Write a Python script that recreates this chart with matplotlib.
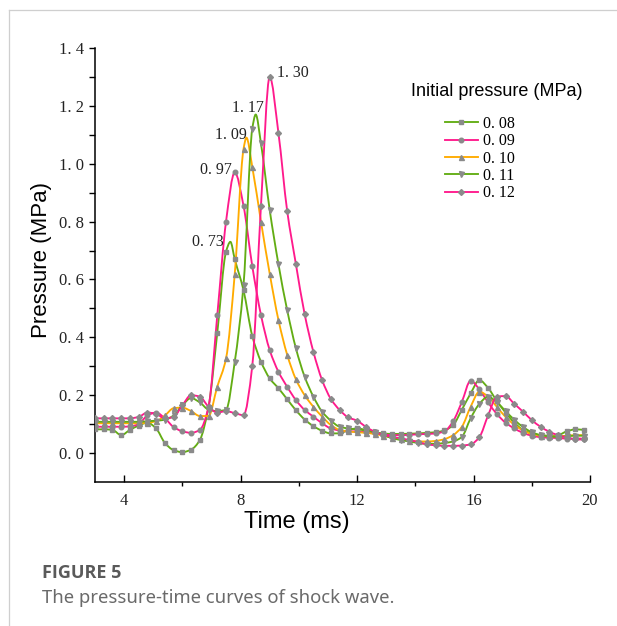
import numpy as np
import matplotlib
matplotlib.use("Agg")
import matplotlib.pyplot as plt
from matplotlib.path import Path
from matplotlib.patches import PathPatch
from matplotlib.lines import Line2D

# ---------------- data ----------------
time_ms = [3.0, 3.3, 3.6, 3.9, 4.2, 4.5, 4.8, 5.1, 5.4, 5.7, 6.0, 6.3, 6.6, 6.9,
           7.2, 7.5, 7.8, 8.1, 8.4, 8.7, 9.0, 9.3, 9.6, 9.9, 10.2, 10.5, 10.8,
           11.1, 11.4, 11.7, 12.0, 12.3, 12.6, 12.9, 13.2, 13.5, 13.8, 14.1,
           14.4, 14.7, 15.0, 15.3, 15.6, 15.9, 16.2, 16.5, 16.8, 17.1, 17.4,
           17.7, 18.0, 18.3, 18.6, 18.9, 19.2, 19.5, 19.8]

p_008 = [0.082, 0.082, 0.080, 0.062, 0.080, 0.095, 0.105, 0.085, 0.035, 0.010,
         0.003, 0.012, 0.045, 0.160, 0.416, 0.696, 0.670, 0.563, 0.405, 0.316,
         0.258, 0.224, 0.186, 0.148, 0.116, 0.093, 0.077, 0.068, 0.068, 0.080,
         0.085, 0.080, 0.072, 0.068, 0.066, 0.066, 0.067, 0.068, 0.070, 0.072,
         0.078, 0.097, 0.150, 0.206, 0.252, 0.225, 0.180, 0.140, 0.105, 0.080,
         0.068, 0.062, 0.060, 0.062, 0.075, 0.082, 0.080]
p_009 = [0.091, 0.091, 0.091, 0.091, 0.092, 0.100, 0.130, 0.140, 0.120, 0.090,
         0.075, 0.070, 0.080, 0.160, 0.477, 0.800, 0.970, 0.855, 0.647, 0.477,
         0.356, 0.281, 0.229, 0.183, 0.149, 0.126, 0.103, 0.085, 0.078, 0.075,
         0.075, 0.072, 0.068, 0.064, 0.062, 0.062, 0.063, 0.065, 0.066, 0.068,
         0.075, 0.110, 0.177, 0.250, 0.220, 0.175, 0.135, 0.105, 0.085, 0.070,
         0.060, 0.055, 0.053, 0.052, 0.050, 0.050, 0.050]
p_010 = [0.103, 0.103, 0.103, 0.103, 0.103, 0.103, 0.105, 0.110, 0.130, 0.155,
         0.157, 0.145, 0.128, 0.128, 0.230, 0.327, 0.620, 1.050, 0.990, 0.800,
         0.620, 0.460, 0.340, 0.255, 0.200, 0.160, 0.126, 0.097, 0.080, 0.075,
         0.072, 0.070, 0.066, 0.060, 0.053, 0.047, 0.043, 0.040, 0.040, 0.042,
         0.048, 0.062, 0.091, 0.160, 0.212, 0.195, 0.160, 0.125, 0.098, 0.078,
         0.066, 0.060, 0.058, 0.058, 0.060, 0.062, 0.062]
p_011 = [0.108, 0.108, 0.108, 0.108, 0.108, 0.108, 0.110, 0.112, 0.115, 0.130,
         0.165, 0.190, 0.175, 0.150, 0.145, 0.150, 0.316, 0.580, 1.120, 1.070,
         0.840, 0.653, 0.494, 0.362, 0.264, 0.195, 0.143, 0.112, 0.091, 0.085,
         0.082, 0.078, 0.072, 0.062, 0.052, 0.045, 0.040, 0.035, 0.032, 0.032,
         0.035, 0.040, 0.056, 0.120, 0.170, 0.195, 0.175, 0.145, 0.115, 0.090,
         0.072, 0.062, 0.058, 0.056, 0.058, 0.060, 0.060]
p_012 = [0.120, 0.120, 0.120, 0.120, 0.120, 0.125, 0.140, 0.135, 0.120, 0.125,
         0.165, 0.200, 0.195, 0.160, 0.140, 0.145, 0.138, 0.131, 0.300, 0.855,
         1.300, 1.106, 0.837, 0.653, 0.480, 0.350, 0.252, 0.187, 0.149, 0.123,
         0.112, 0.091, 0.074, 0.063, 0.056, 0.051, 0.045, 0.038, 0.030, 0.027,
         0.025, 0.025, 0.026, 0.030, 0.055, 0.130, 0.195, 0.197, 0.170, 0.143,
         0.114, 0.091, 0.074, 0.062, 0.054, 0.047, 0.047]

series_labels = ["0. 08", "0. 09", "0. 10", "0. 11", "0. 12"]
peak_time = [7.65, 7.8, 8.2, 8.52, 9.0]
peak_value = [0.73, 0.97, 1.09, 1.17, 1.30]
peak_labels = ["0. 73", "0. 97", "1. 09", "1. 17", "1. 30"]

x_ticks = [4, 8, 12, 16, 20]
x_minor_ticks = [6, 10, 14, 18]
y_ticks = [0.0, 0.2, 0.4, 0.6, 0.8, 1.0, 1.2, 1.4]
y_tick_labels = ["0. 0", "0. 2", "0. 4", "0. 6", "0. 8", "1. 0", "1. 2", "1. 4"]
y_minor_ticks = [0.1, 0.3, 0.5, 0.7, 0.9, 1.1, 1.3]

# ---------------- style ----------------
GREEN = "#63ad14"
PINK = "#ff1a8c"
ORANGE = "#ffab00"
GRAY = "#8a8a8a"
colors = [GREEN, PINK, ORANGE, GREEN, PINK]
markers = ["s", "o", "^", "v", "D"]
msizes = [3.0, 3.3, 3.6, 3.6, 3.0]

SERIF = ["Liberation Serif", "DejaVu Serif"]
SANS = ["Liberation Sans", "DejaVu Sans"]
CAPTION = ["Noto Sans", "DejaVu Sans"]


def smooth_path(x, y):
    """Monotone cubic Bezier path passing through every data point."""
    x = np.asarray(x, float)
    y = np.asarray(y, float)
    h = np.diff(x)
    d = np.diff(y) / h
    m = np.zeros_like(y)
    m[0], m[-1] = d[0], d[-1]
    for k in range(1, len(x) - 1):
        if d[k - 1] * d[k] <= 0:
            m[k] = 0.0
        else:
            w1 = 2 * h[k] + h[k - 1]
            w2 = h[k] + 2 * h[k - 1]
            m[k] = (w1 + w2) / (w1 / d[k - 1] + w2 / d[k])
    verts = [(x[0], y[0])]
    codes = [Path.MOVETO]
    for k in range(len(x) - 1):
        verts += [(x[k] + h[k] / 3, y[k] + m[k] * h[k] / 3),
                  (x[k + 1] - h[k] / 3, y[k + 1] - m[k + 1] * h[k] / 3),
                  (x[k + 1], y[k + 1])]
        codes += [Path.CURVE4] * 3
    return Path(verts, codes)


fig = plt.figure(figsize=(6.17, 6.26), dpi=100)
fig.patch.set_facecolor("white")

# thin page frame
fig.add_artist(Line2D([9 / 617, 9 / 617], [0, 1 - 10 / 626], color="#cfcfcf", lw=0.9))
fig.add_artist(Line2D([9 / 617, 1], [1 - 10 / 626, 1 - 10 / 626], color="#cfcfcf", lw=0.9))

ax = fig.add_axes([95 / 617, 1 - 482 / 626, 495 / 617, 434 / 626])
ax.set_xlim(3, 20)
ax.set_ylim(-0.1, 1.4)

all_series = [p_008, p_009, p_010, p_011, p_012]
handles = []
for i, vals in enumerate(all_series):
    xs = list(time_ms)
    ys = list(vals)
    if peak_time[i] not in xs:
        j = int(np.searchsorted(xs, peak_time[i]))
        xs.insert(j, peak_time[i])
        ys.insert(j, peak_value[i])
    ax.add_patch(PathPatch(smooth_path(xs, ys), facecolor="none",
                           edgecolor=colors[i], lw=1.35, zorder=2 + i * 0.1,
                           transform=ax.transData))
    ax.plot(time_ms, vals, linestyle="none", marker=markers[i],
            markersize=msizes[i], markerfacecolor=GRAY, markeredgecolor=GRAY,
            zorder=3 + i * 0.1)
    handles.append(Line2D([], [], color=colors[i], lw=1.35, marker=markers[i],
                          markersize=msizes[i], markerfacecolor=GRAY,
                          markeredgecolor=GRAY))

# peak annotations
offsets = [(-7, 0, "right"), (-3, 2, "right"), (0, 3, "right"),
           (8, 7, "right"), (7, 4, "left")]
for i in range(5):
    dx, dy, ha = offsets[i]
    ax.annotate(peak_labels[i], xy=(peak_time[i], peak_value[i]),
                xytext=(dx, dy), textcoords="offset pixels", ha=ha, va="center",
                fontsize=11.5, family=SERIF, color="#222222")

# axes styling
for s in ["top", "right"]:
    ax.spines[s].set_visible(False)
for s in ["left", "bottom"]:
    ax.spines[s].set_linewidth(1.1)

ax.set_xticks(x_ticks)
ax.set_xticklabels([str(v) for v in x_ticks])
ax.set_xticks(x_minor_ticks, minor=True)
ax.set_yticks(y_ticks)
ax.set_yticklabels(y_tick_labels)
ax.set_yticks(y_minor_ticks, minor=True)
ax.tick_params(axis="x", which="major", direction="in", length=5, width=1.0, pad=8)
ax.tick_params(axis="x", which="minor", direction="out", length=3, width=1.0)
ax.tick_params(axis="y", which="both", direction="out", length=4, width=1.0, pad=4)
for lab in ax.get_xticklabels() + ax.get_yticklabels():
    lab.set_fontfamily(SERIF)
    lab.set_fontsize(12)
    lab.set_color("#222222")

fig.text(297 / 617, 1 - 522 / 626, "Time (ms)", ha="center", va="center",
         fontsize=17, family=SANS)
fig.text(42 / 617, 1 - 260 / 626, "Pressure (MPa)", ha="center", va="center",
         rotation=90, fontsize=16, family=SANS)

# legend: title placed as text, entries as a legend below it
fig.text(497 / 617, 1 - 92 / 626, "Initial pressure (MPa)", ha="center",
         va="center", fontsize=13, family=SANS)
leg = ax.legend(handles, series_labels, loc="upper left",
                bbox_to_anchor=(445 / 617, 1 - 116 / 626),
                bbox_transform=fig.transFigure, frameon=False,
                prop={"family": SERIF, "size": 11.5}, handlelength=2.05,
                labelspacing=0.08, handletextpad=0.35, borderpad=0,
                borderaxespad=0)

fig.text(42 / 617, 1 - 573 / 626, "FIGURE 5", ha="left", va="center",
         fontsize=13, fontweight="bold", color="#5a5a5a",
         family=["Open Sans", "DejaVu Sans"])
fig.text(42 / 617, 1 - 598 / 626, "The pressure-time curves of shock wave.",
         ha="left", va="center", fontsize=13.3, color="#6a6a6a",
         family=CAPTION)

fig.savefig("out.png", dpi=100, facecolor="white")
